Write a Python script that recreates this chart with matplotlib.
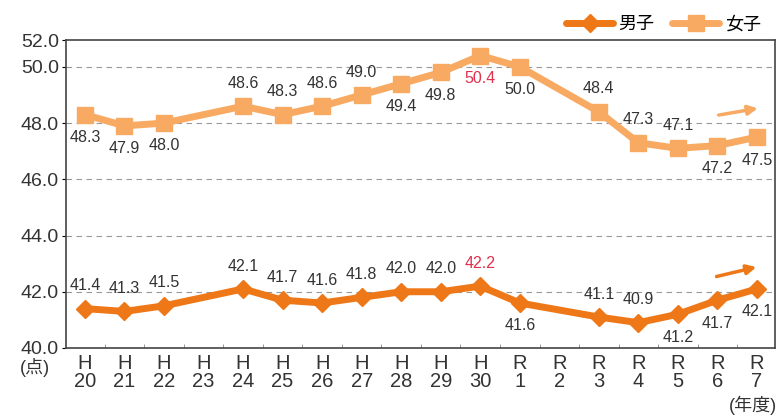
import matplotlib
matplotlib.use("Agg")
import matplotlib.pyplot as plt
import numpy as np

plt.rcParams['font.family'] = ['Liberation Sans', 'Noto Sans CJK JP', 'DejaVu Sans']

# years (H = Heisei, R = Reiwa); H23 and R2 have no data
eras = ["H"] * 11 + ["R"] * 7
years = ["20", "21", "22", "23", "24", "25", "26", "27", "28", "29", "30",
         "1", "2", "3", "4", "5", "6", "7"]
boys = [41.4, 41.3, 41.5, None, 42.1, 41.7, 41.6, 41.8, 42.0, 42.0, 42.2,
        41.6, None, 41.1, 40.9, 41.2, 41.7, 42.1]
girls = [48.3, 47.9, 48.0, None, 48.6, 48.3, 48.6, 49.0, 49.4, 49.8, 50.4,
         50.0, None, 48.4, 47.3, 47.1, 47.2, 47.5]

# label placement: +1 above the point, -1 below
boys_pos = [1, 1, 1, 0, 1, 1, 1, 1, 1, 1, 1, -1, 0, 1, 1, -1, -1, -1]
girls_pos = [-1, -1, -1, 0, 1, 1, 1, 1, -1, -1, -1, -1, 0, 1, 1, 1, -1, -1]
highlight = 10  # H30 values printed in red

c_boys = "#EE7818"
c_girls = "#F8AA62"
c_red = "#E0304E"
c_text = "#333333"

fig = plt.figure(figsize=(7.81, 4.18), dpi=100)
ax = fig.add_axes([0.0845, 0.1675, 0.9075, 0.7365])

x = np.arange(len(years))


def draw(vals, pos, color, marker, ms, label):
    xs = [i for i, v in enumerate(vals) if v is not None]
    ys = [v for v in vals if v is not None]
    ax.plot(xs, ys, color=color, lw=5, marker=marker, ms=ms,
            solid_capstyle="round", label=label, zorder=3)
    for i, v in zip(xs, ys):
        col = c_red if i == highlight else c_text
        ax.annotate(f"{v:.1f}", (i, v), xytext=(0, 16.5 * pos[i]),
                    textcoords="offset points", ha="center", va="center",
                    fontsize=11.5, color=col, zorder=4)


draw(boys, boys_pos, c_boys, "D", 9, "男子")
draw(girls, girls_pos, c_girls, "s", 11, "女子")

# trend arrows
ax.annotate("", xy=(0.98, 0.78), xytext=(0.917, 0.755), xycoords="axes fraction",
            arrowprops=dict(arrowstyle="-|>", color=c_girls, lw=2.5, mutation_scale=14))
ax.annotate("", xy=(0.978, 0.265), xytext=(0.914, 0.23), xycoords="axes fraction",
            arrowprops=dict(arrowstyle="-|>", color=c_boys, lw=2.5, mutation_scale=14))

ax.set_xlim(-0.48, 17.45)
ax.set_ylim(40, 50.95)
ax.set_yticks([40, 42, 44, 46, 48, 50, 50.95])
ax.set_yticklabels(["40.0", "42.0", "44.0", "46.0", "48.0", "50.0", "52.0"],
                   fontsize=14, color=c_text)
for g in [42, 44, 46, 48, 50]:
    ax.axhline(g, color="#999999", lw=0.8, ls=(0, (5, 4)), zorder=1)

ax.set_xticks(x)
ax.set_xticklabels([f"{e}\n{y}" for e, y in zip(eras, years)],
                   fontsize=14.5, color=c_text, linespacing=0.95)
ax.set_xticks(x[:-1] + 0.5, minor=True)
ax.tick_params(axis="x", which="major", length=0, pad=4)
ax.tick_params(axis="x", which="minor", direction="in", length=3, color="#888888")
ax.tick_params(axis="y", length=3, pad=2)

for s in ax.spines.values():
    s.set_color("#444444")
    s.set_linewidth(1.2)

fig.text(0.026, 0.12, "(点)", fontsize=13, color=c_text, ha="left", va="center")
fig.text(0.995, 0.03, "(年度)", fontsize=13, color=c_text, ha="right", va="center")

fig.legend(loc="upper right", bbox_to_anchor=(0.995, 1.0), ncol=2, frameon=False,
           fontsize=13, handlelength=2.6, columnspacing=1.0, handletextpad=0.3)

fig.savefig("out.png", dpi=100)
